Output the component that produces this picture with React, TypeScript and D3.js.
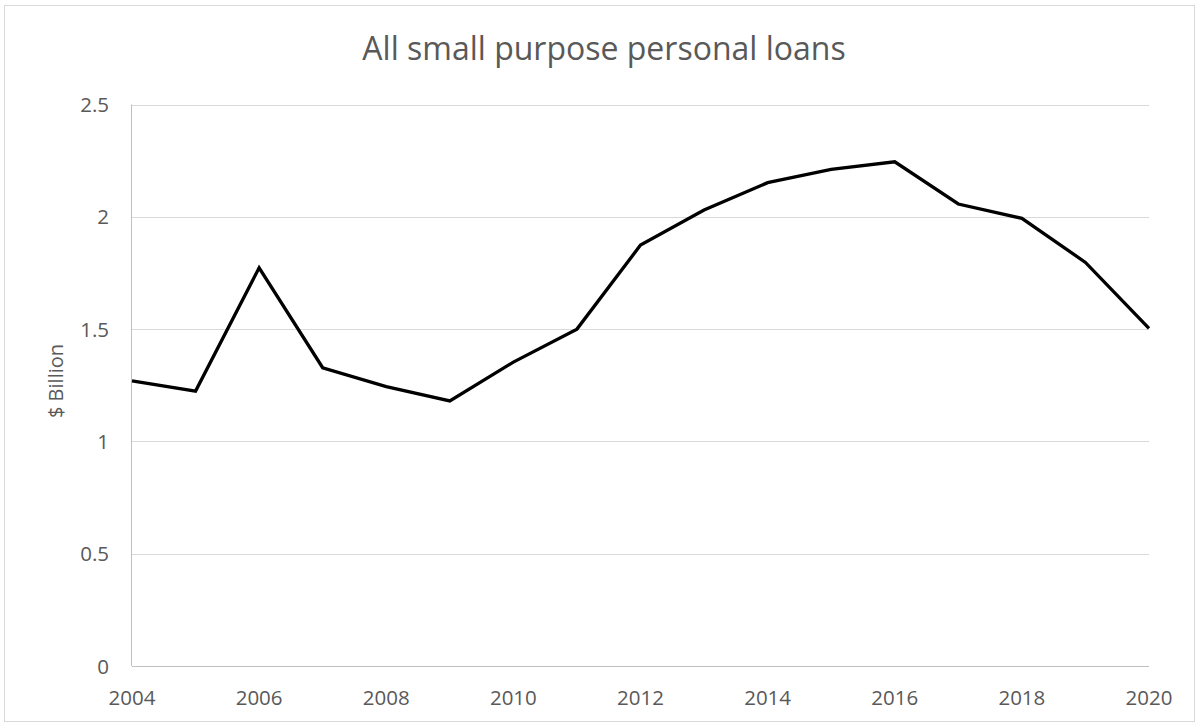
import React from "react";
import * as d3 from "d3";

const years = [2004, 2005, 2006, 2007, 2008, 2009, 2010, 2011, 2012, 2013, 2014, 2015, 2016, 2017, 2018, 2019, 2020];
const values = [1.27, 1.224, 1.773, 1.328, 1.244, 1.18, 1.353, 1.50, 1.874, 2.03, 2.152, 2.211, 2.245, 2.057, 1.993, 1.797, 1.503];
const yTicks = [0, 0.5, 1, 1.5, 2, 2.5];
const xTickYears = [2004, 2006, 2008, 2010, 2012, 2014, 2016, 2018, 2020];

const W = 1200, H = 727;
const left = 132, right = 1149, top = 104.5, bottom = 666;
const FONT = "'Open Sans', sans-serif";

export default function App() {
  const x = d3.scaleLinear().domain([2004, 2020]).range([left, right]);
  const y = d3.scaleLinear().domain([0, 2.5]).range([bottom, top]);
  const line = d3.line<number>().x((_, i) => x(years[i])).y((d) => y(d));
  return (
    <svg width={W} height={H} style={{ position: "absolute", left: 0, top: 0 }}>
      <rect x={0} y={0} width={W} height={H} fill="#fff" />
      <rect x={4.5} y={5.5} width={1190} height={716} fill="none" stroke="#d9d9d9" strokeWidth={1} />
      <text x={604} y={60} textAnchor="middle" fontFamily={FONT} fontSize={32} fill="#595959">All small purpose personal loans</text>
      {yTicks.map((t) => (
        <g key={t}>
          {t > 0 && <line x1={left} x2={right} y1={Math.round(y(t)) + 0.5} y2={Math.round(y(t)) + 0.5} stroke="#d9d9d9" strokeWidth={1} />}
          <text x={109} y={y(t) + 7.5} textAnchor="end" fontFamily={FONT} fontSize={20.5} fill="#595959">{t}</text>
        </g>
      ))}
      <line x1={left} x2={right} y1={bottom + 0.5} y2={bottom + 0.5} stroke="#bfbfbf" strokeWidth={1} />
      <line x1={left - 0.5} x2={left - 0.5} y1={top} y2={bottom} stroke="#bfbfbf" strokeWidth={1} />
      {xTickYears.map((yr) => (
        <text key={yr} x={x(yr)} y={705} textAnchor="middle" fontFamily={FONT} fontSize={20.5} fill="#595959">{yr}</text>
      ))}
      <text transform={`translate(63,381) rotate(-90)`} textAnchor="middle" fontFamily={FONT} fontSize={20} fill="#595959">$ Billion</text>
      <path d={line(values) || ""} fill="none" stroke="#000" strokeWidth={3.3} strokeLinejoin="miter" />
    </svg>
  );
}
